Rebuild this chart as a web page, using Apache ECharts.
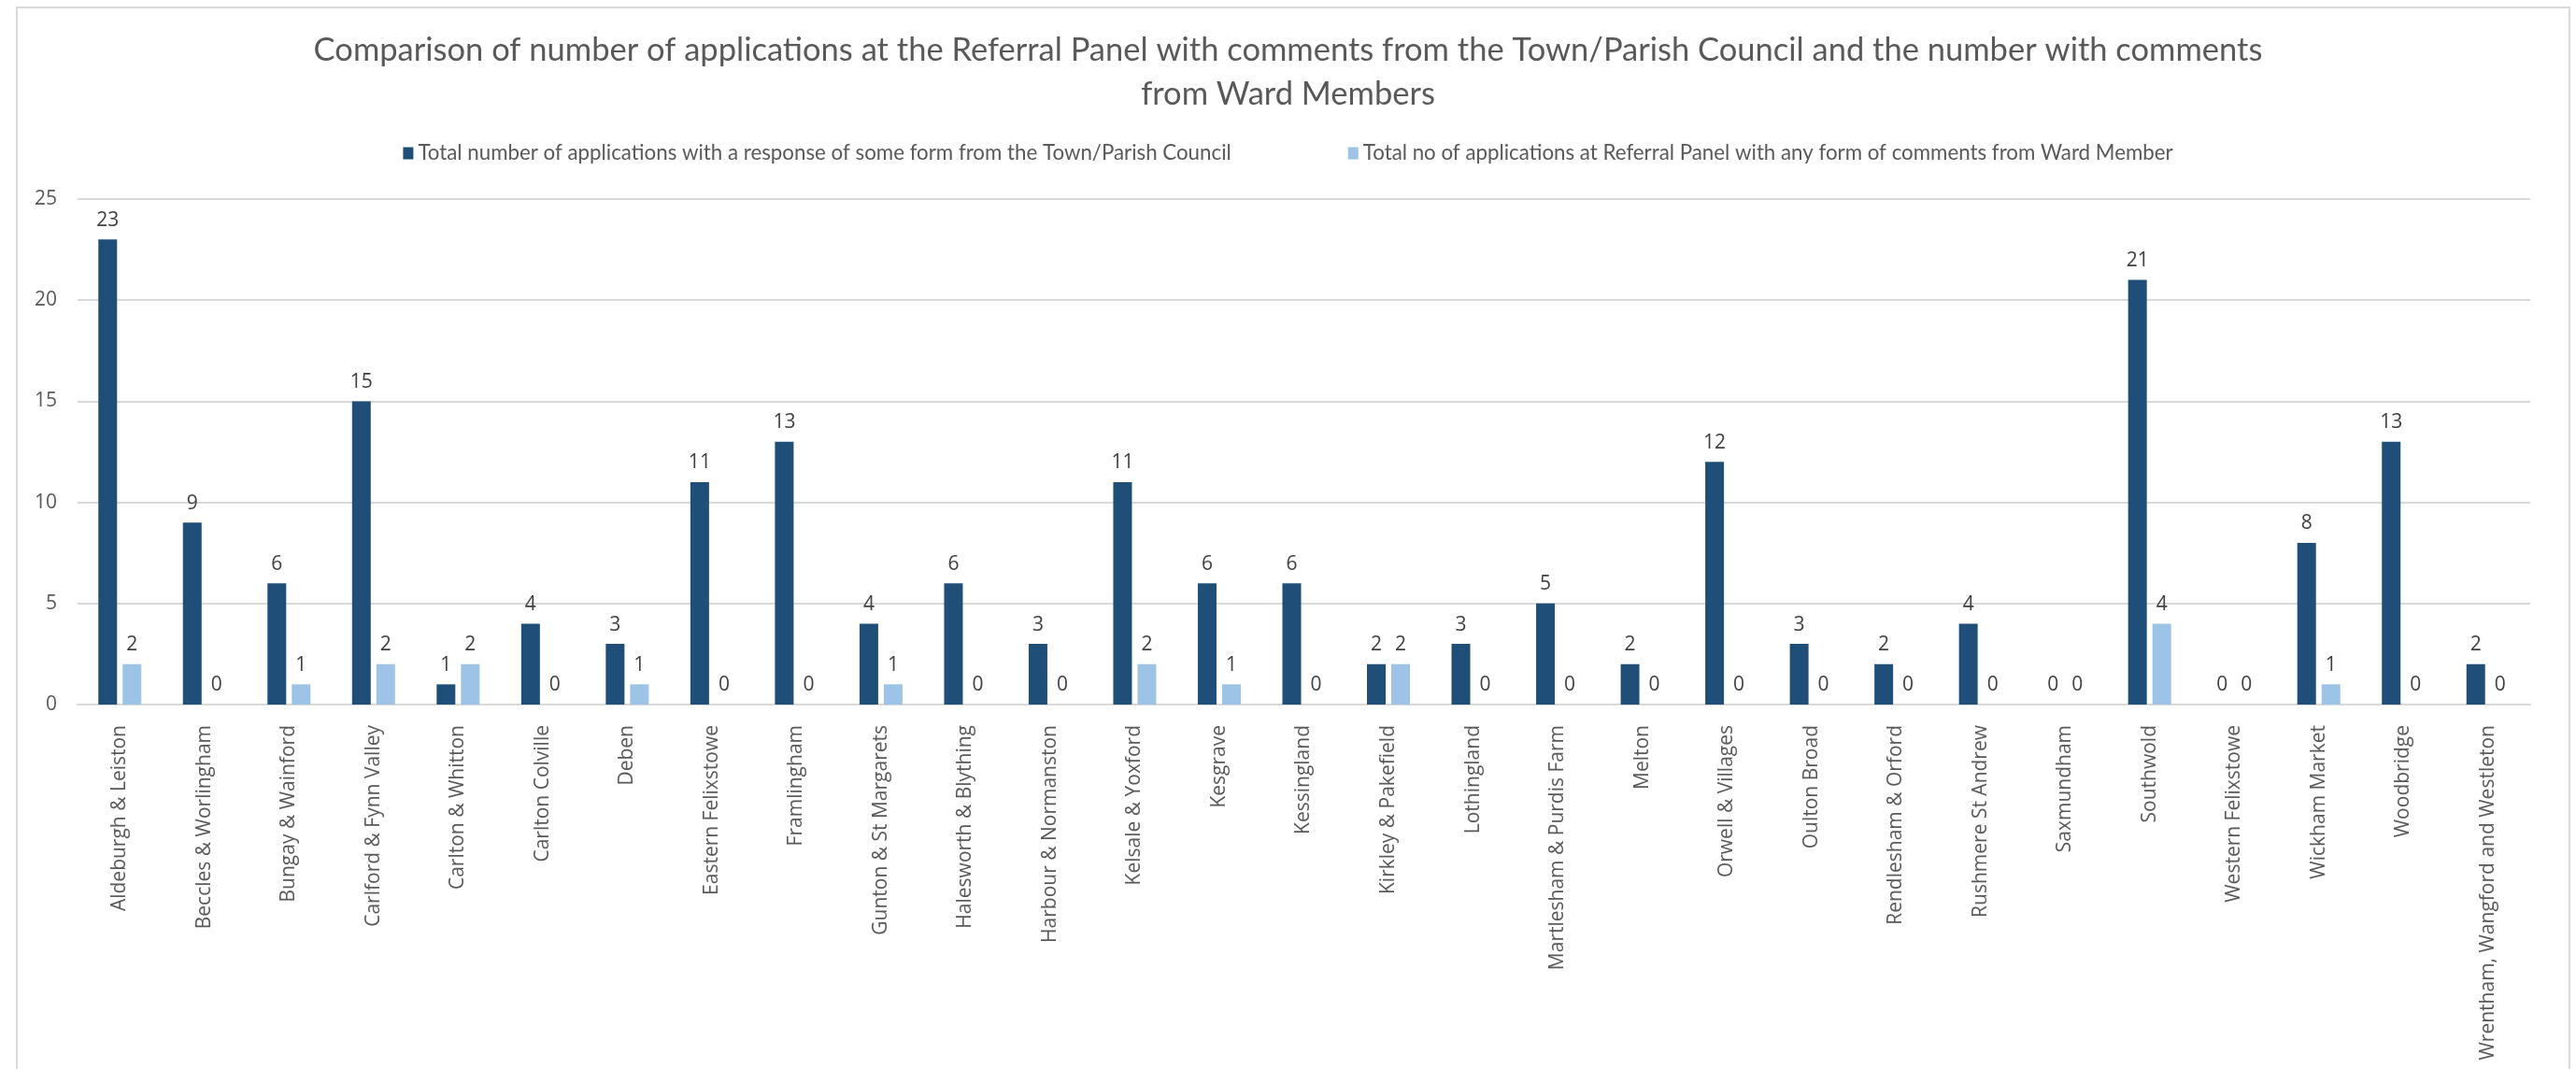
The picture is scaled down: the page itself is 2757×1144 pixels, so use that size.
<!DOCTYPE html>
<html>
<head>
<meta charset="utf-8">
<script src="https://cdn.jsdelivr.net/npm/echarts@6/dist/echarts.min.js"></script>
<style>
html,body{margin:0;padding:0;background:#fff;}
#chart{width:2757px;height:1144px;}
</style>
</head>
<body>
<div id="chart"></div>
<script>
const categories = [
  "Aldeburgh & Leiston","Beccles & Worlingham","Bungay & Wainford","Carlford & Fynn Valley",
  "Carlton & Whitton","Carlton Colville","Deben","Eastern Felixstowe","Framlingham",
  "Gunton & St Margarets","Halesworth & Blything","Harbour & Normanston","Kelsale & Yoxford",
  "Kesgrave","Kessingland","Kirkley & Pakefield","Lothingland","Martlesham & Purdis Farm",
  "Melton","Orwell & Villages","Oulton Broad","Rendlesham & Orford","Rushmere St Andrew",
  "Saxmundham","Southwold","Western Felixstowe","Wickham Market","Woodbridge",
  "Wrentham, Wangford and Westleton"
];
const parishValues = [23,9,6,15,1,4,3,11,13,4,6,3,11,6,6,2,3,5,2,12,3,2,4,0,21,0,8,13,2];
const wardValues   = [2,0,1,2,2,0,1,0,0,1,0,0,2,1,0,2,0,0,0,0,0,0,0,0,4,0,1,0,0];
const seriesNames = [
  "Total number of applications with a response of some form from the Town/Parish Council",
  "Total no of applications at Referral Panel with any form of comments from Ward Member"
];
const titleText = "Comparison of number of applications at the Referral Panel with comments from the Town/Parish Council and the number with comments\nfrom Ward Members";

const chart = echarts.init(document.getElementById('chart'));
const labelStyle = {show:true, position:'top', distance:10, color:'#404040', fontSize:21, fontFamily:'Open Sans'};
chart.setOption({
  backgroundColor:'#fff',
  animation:false,
  graphic:[{type:'rect', shape:{x:18, y:8, width:2732, height:1300}, style:{fill:'none', stroke:'#d9d9d9', lineWidth:2}, silent:true, z:-1}],
  title:{
    text:titleText, left:'center', top:25,
    textStyle:{fontFamily:'Lato', fontWeight:'normal', fontSize:34.5, color:'#595959', lineHeight:47}
  },
  legend:{
    top:148, left:'center', itemWidth:11, itemHeight:13, itemGap:125,
    icon:'rect',
    textStyle:{fontFamily:'Lato', fontSize:22.3, color:'#595959'}
  },
  grid:{left:83, right:49, top:213, bottom:390, containLabel:false},
  xAxis:{
    type:'category', data:categories,
    axisLine:{lineStyle:{color:'#d9d9d9', width:2}},
    axisTick:{show:false},
    axisLabel:{rotate:90, interval:0, margin:22, color:'#595959', fontSize:21, fontFamily:'Open Sans'}
  },
  yAxis:{
    type:'value', min:0, max:25, interval:5,
    axisLine:{show:false}, axisTick:{show:false},
    splitLine:{lineStyle:{color:'#d9d9d9', width:2}},
    axisLabel:{color:'#595959', fontSize:21, fontFamily:'Open Sans', margin:22}
  },
  series:[
    {name:seriesNames[0], type:'bar', data:parishValues, barWidth:20, barGap:'30%',
     itemStyle:{color:'#1F4E79'}, label:labelStyle},
    {name:seriesNames[1], type:'bar', data:wardValues, barWidth:20, barGap:'30%',
     itemStyle:{color:'#9DC3E6'}, label:labelStyle}
  ]
});
</script>
</body>
</html>
